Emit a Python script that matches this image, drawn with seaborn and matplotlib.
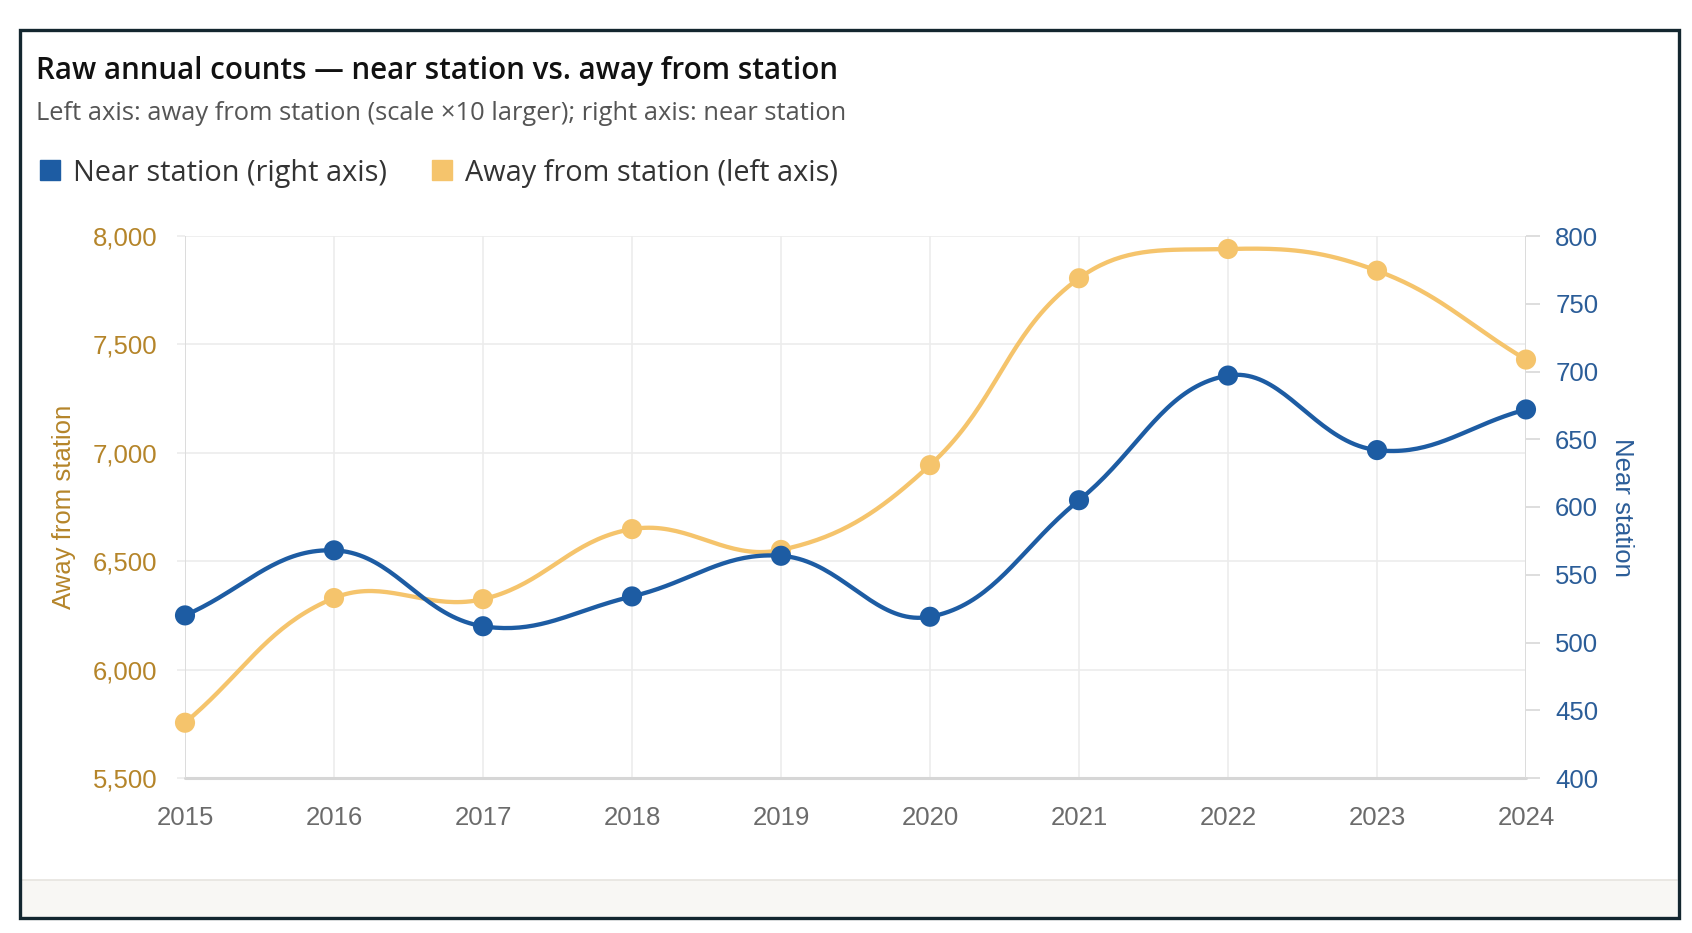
import numpy as np
import pandas as pd
import matplotlib
matplotlib.use("Agg")
import matplotlib.pyplot as plt
from matplotlib.patches import Rectangle
from matplotlib.lines import Line2D
import seaborn as sns

# ---- data ----
years = [2015, 2016, 2017, 2018, 2019, 2020, 2021, 2022, 2023, 2024]
near_station = [520, 568, 512, 534, 564, 519, 605, 697, 642, 672]
away_station = [5755, 6330, 6325, 6648, 6552, 6943, 7805, 7940, 7840, 7430]
left_ticks = [5500, 6000, 6500, 7000, 7500, 8000]
right_ticks = [400, 450, 500, 550, 600, 650, 700, 750, 800]

title = "Raw annual counts \u2014 near station vs. away from station"
subtitle = "Left axis: away from station (scale \u00d710 larger); right axis: near station"
legend_labels = ["Near station (right axis)", "Away from station (left axis)"]

BLUE = "#1d5ca3"
GOLD = "#f5c46c"
GOLD_TXT = "#b5852a"
BLUE_TXT = "#2b5d98"
GRID = "#ececec"

sns.set_theme(style="white")
plt.rcParams["font.family"] = ["Liberation Sans", "DejaVu Sans"]

W, H = 1692, 933
fig = plt.figure(figsize=(W / 100, H / 100), dpi=100)
fig.patch.set_facecolor("white")

# frame + bottom band
fig.add_artist(Rectangle((21 / W, 1 - 917 / H), 1656 / W, 37 / H, transform=fig.transFigure,
                         facecolor="#f8f7f4", edgecolor="none", zorder=0))
fig.add_artist(Line2D([21 / W, 1677 / W], [1 - 880 / H, 1 - 880 / H], transform=fig.transFigure,
                      color="#e6e4df", lw=1.2, zorder=0))
fig.add_artist(Rectangle((20 / W, 1 - 918 / H), 1659 / W, 888 / H, transform=fig.transFigure,
                         facecolor="none", edgecolor="#13262f", lw=2.4, zorder=5))

L, R, T, B = 185, 1526, 236, 778
ax = fig.add_axes([L / W, 1 - B / H, (R - L) / W, (B - T) / H])
ax2 = ax.twinx()
ax.set_facecolor("none")

xmin, xmax = years[0], years[-1]
ax.set_xlim(xmin, xmax)
ax.set_ylim(left_ticks[0], left_ticks[-1])
ax2.set_ylim(right_ticks[0], right_ticks[-1])

pw, ph = R - L, B - T


def chartjs_curve(xv, yv, ylo, yhi, tension=0.4, n=40):
    # work in pixel space like Chart.js
    px = (np.array(xv, float) - xmin) / (xmax - xmin) * pw
    py = (np.array(yv, float) - ylo) / (yhi - ylo) * ph
    pts = np.column_stack([px, py])
    m = len(pts)
    cp_prev = pts.copy()
    cp_next = pts.copy()
    for i in range(m):
        prev = pts[i - 1] if i > 0 else pts[i]
        nxt = pts[i + 1] if i < m - 1 else pts[i]
        d01 = np.hypot(*(pts[i] - prev))
        d12 = np.hypot(*(nxt - pts[i]))
        tot = d01 + d12
        s01 = d01 / tot if tot else 0
        s12 = d12 / tot if tot else 0
        fa, fb = tension * s01, tension * s12
        cp_prev[i] = pts[i] - fa * (nxt - prev)
        cp_next[i] = pts[i] + fb * (nxt - prev)
    out = []
    t = np.linspace(0, 1, n)[:, None]
    for i in range(m - 1):
        P0, P1, P2, P3 = pts[i], cp_next[i], cp_prev[i + 1], pts[i + 1]
        seg = (1 - t) ** 3 * P0 + 3 * (1 - t) ** 2 * t * P1 + 3 * (1 - t) * t ** 2 * P2 + t ** 3 * P3
        out.append(seg if i == 0 else seg[1:])
    out = np.vstack(out)
    xs = out[:, 0] / pw * (xmax - xmin) + xmin
    ys = out[:, 1] / ph * (yhi - ylo) + ylo
    return xs, ys


# away (left axis)
ax_x, ax_y = chartjs_curve(years, away_station, left_ticks[0], left_ticks[-1])
sns.lineplot(x=ax_x, y=ax_y, ax=ax, sort=False, estimator=None, color=GOLD, lw=3.1, zorder=3)
sns.scatterplot(x=years, y=away_station, ax=ax, color=GOLD, s=210, edgecolor="none", zorder=4, clip_on=False)

# near (right axis)
nx, ny = chartjs_curve(years, near_station, right_ticks[0], right_ticks[-1])
sns.lineplot(x=nx, y=ny, ax=ax2, sort=False, estimator=None, color=BLUE, lw=3.1, zorder=3)
sns.scatterplot(x=years, y=near_station, ax=ax2, color=BLUE, s=210, edgecolor="none", zorder=4, clip_on=False)

# grid & spines
ax.set_xticks(years)
ax.set_xticklabels([str(y) for y in years])
ax.set_yticks(left_ticks)
ax.set_yticklabels([f"{v:,}" for v in left_ticks])
ax2.set_yticks(right_ticks)
ax2.set_yticklabels([str(v) for v in right_ticks])
ax.grid(True, color=GRID, lw=1.2, zorder=0)
ax.set_axisbelow(True)
for a in (ax, ax2):
    for s in a.spines.values():
        s.set_visible(False)
ax.axhline(left_ticks[0], color="#d6d6d6", lw=2.2, zorder=1, clip_on=False)
ax.axvline(years[0], color="#dcdcdc", lw=1.4, zorder=1)
ax.axvline(years[-1], color="#dcdcdc", lw=1.4, zorder=1)

ax.tick_params(axis="x", length=14, width=1.2, color=GRID, labelsize=18.5, labelcolor="#6b6b6b", pad=6)
ax.tick_params(axis="y", length=6, width=1.2, color=GRID, labelsize=18.5, labelcolor=GOLD_TXT, pad=14)
ax2.tick_params(axis="y", length=10, width=1.2, color="#d8d8d8", labelsize=18.5, labelcolor=BLUE_TXT, pad=11)

ax.set_ylabel("Away from station", color=GOLD_TXT, fontsize=18.5, labelpad=12)
ax2.set_ylabel("Near station", color=BLUE_TXT, fontsize=18.5, rotation=270, labelpad=26)

# title & subtitle
FAM = ["Open Sans", "DejaVu Sans"]
fig.text(36 / W, 1 - 71 / H, title, fontsize=21.3, family=FAM, weight="semibold",
         color="#111111", va="center", ha="left")
fig.text(36 / W, 1 - 114 / H, subtitle, fontsize=18.4, family=FAM,
         color="#555555", va="center", ha="left")

handles = [Line2D([], [], marker="s", ls="none", markersize=15, markerfacecolor=BLUE, markeredgecolor=BLUE),
           Line2D([], [], marker="s", ls="none", markersize=15, markerfacecolor=GOLD, markeredgecolor=GOLD)]
leg = fig.legend(handles, legend_labels, loc="center left", bbox_to_anchor=(11 / W, 1 - 173 / H),
                 ncol=2, frameon=False, handletextpad=0.35, columnspacing=1.45, handlelength=0.9,
                 prop={"family": FAM, "size": 20.8})
for t in leg.get_texts():
    t.set_color("#333333")

fig.savefig("out.png", dpi=100, facecolor="white")
